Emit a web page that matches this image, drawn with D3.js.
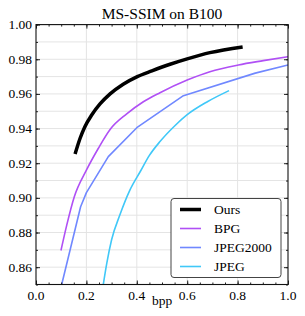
<!DOCTYPE html>
<html>
<head>
<meta charset="utf-8">
<script src="https://cdn.jsdelivr.net/npm/d3@7"></script>
<style>
  body { margin: 0; background: #fff; }
  svg { display: block; }
  text { font-family: "Liberation Serif", "Times New Roman", serif; }
</style>
</head>
<body>
<svg class="chart" width="305" height="316"></svg>
<script>
// values
const ours = [[0.155, 0.9253], [0.175, 0.9344], [0.194, 0.9411], [0.221, 0.9478], [0.254, 0.9542],
    [0.294, 0.960], [0.346, 0.9656], [0.402, 0.970], [0.46, 0.9733], [0.532, 0.9771],
    [0.60, 0.9802], [0.69, 0.9838], [0.82, 0.9871]];
const bpg = [[0.099, 0.8696], [0.122, 0.8843], [0.152, 0.9007], [0.20, 0.9160], [0.247, 0.9285],
    [0.294, 0.9395], [0.36, 0.9485], [0.426, 0.9555], [0.492, 0.9607], [0.60, 0.968],
    [0.69, 0.9728], [0.803, 0.9767], [0.902, 0.9792], [1.0, 0.9815]];
const jpeg2000 = [[0.102, 0.850], [0.177, 0.8949], [0.20, 0.9030], [0.287, 0.9238],
    [0.40, 0.9405], [0.585, 0.9590], [0.87, 0.9720], [1.0, 0.9767]];
const jpeg = [[0.267, 0.850], [0.281, 0.8623], [0.30, 0.8758], [0.333, 0.8902], [0.373, 0.9046],
    [0.415, 0.9155], [0.45, 0.9245], [0.492, 0.9325], [0.55, 0.9415], [0.60, 0.948],
    [0.68, 0.9555], [0.766, 0.9619]];

const series = [
    { name: 'Ours', values: ours, color: '#000000', width: 3.5, curve: d3.curveMonotoneX },
    { name: 'BPG', values: bpg, color: '#b050f5', width: 1.6, curve: d3.curveMonotoneX },
    { name: 'JPEG2000', values: jpeg2000, color: '#7088ff', width: 1.6, curve: d3.curveLinear },
    { name: 'JPEG', values: jpeg, color: '#40c8f8', width: 1.6, curve: d3.curveMonotoneX }
];

const xTicks = [0, 0.2, 0.4, 0.6, 0.8, 1.0];
const yTicks = [0.86, 0.88, 0.90, 0.92, 0.94, 0.96, 0.98, 1.00];

const svg = d3.select('.chart');
const margin = { top: 24.6, right: 17, bottom: 31.5, left: 36 };
const width = +svg.attr('width');
const height = +svg.attr('height');
const innerWidth = width - margin.left - margin.right;
const innerHeight = height - margin.top - margin.bottom;

const xScale = d3.scaleLinear().domain([0, 1]).range([0, innerWidth]);
const yScale = d3.scaleLinear().domain([0.85, 1.0]).range([innerHeight, 0]);

const g = svg.append('g')
    .attr('transform', `translate(${margin.left}, ${margin.top})`);

// grid
const yGrid = d3.range(0.86, 1.0001, 0.01);
g.append('g')
    .selectAll('line')
    .data(yGrid)
    .join('line')
    .attr('x1', 0).attr('x2', innerWidth)
    .attr('y1', d => yScale(d)).attr('y2', d => yScale(d))
    .attr('stroke', '#e4e4e4')
    .attr('stroke-width', 1);
g.append('g')
    .selectAll('line')
    .data(xTicks.slice(1, -1))
    .join('line')
    .attr('y1', 0).attr('y2', innerHeight)
    .attr('x1', d => xScale(d)).attr('x2', d => xScale(d))
    .attr('stroke', '#e4e4e4')
    .attr('stroke-width', 1);

g.append('clipPath').attr('id', 'clip')
    .append('rect').attr('width', innerWidth).attr('height', innerHeight);

g.append('g')
    .attr('clip-path', 'url(#clip)')
    .selectAll('path')
    .data(series.slice().reverse())
    .join('path')
    .attr('d', d => d3.line()
        .x(p => xScale(p[0]))
        .y(p => yScale(p[1]))
        .curve(d.curve)(d.values))
    .attr('fill', 'none')
    .attr('stroke', d => d.color)
    .attr('stroke-width', d => d.width)
    .attr('stroke-linejoin', 'round');

// axes with inward ticks on all sides
const xMinor = d3.range(0, 1.0001, 0.05);
const yMinor = d3.range(0.85, 1.0001, 0.01);

function ticksIn(axis, size) {
    return axis.tickSize(size).tickSizeOuter(0).tickFormat('');
}

g.append('g').attr('transform', `translate(0, ${innerHeight})`)
    .call(ticksIn(d3.axisTop(xScale).tickValues(xMinor), 2));
g.append('g').attr('transform', `translate(0, ${innerHeight})`)
    .call(ticksIn(d3.axisTop(xScale).tickValues(xTicks), 4));
g.append('g')
    .call(ticksIn(d3.axisBottom(xScale).tickValues(xMinor), 2));
g.append('g')
    .call(ticksIn(d3.axisBottom(xScale).tickValues(xTicks), 4));
g.append('g')
    .call(ticksIn(d3.axisRight(yScale).tickValues(yMinor), 2));
g.append('g')
    .call(ticksIn(d3.axisRight(yScale).tickValues(yTicks), 4));
g.append('g').attr('transform', `translate(${innerWidth}, 0)`)
    .call(ticksIn(d3.axisLeft(yScale).tickValues(yMinor), 2));
g.append('g').attr('transform', `translate(${innerWidth}, 0)`)
    .call(ticksIn(d3.axisLeft(yScale).tickValues(yTicks), 4));
g.selectAll('.domain').remove();
g.selectAll('.tick text').remove();
g.selectAll('.tick line').attr('stroke', '#222');

// tick labels
g.append('g')
    .selectAll('text')
    .data(xTicks)
    .join('text')
    .attr('x', d => xScale(d))
    .attr('y', innerHeight + 16)
    .attr('text-anchor', 'middle')
    .style('font-size', '13.5px')
    .text(d3.format('.1f'));
g.append('g')
    .selectAll('text')
    .data(yTicks)
    .join('text')
    .attr('x', -4)
    .attr('y', d => yScale(d))
    .attr('dy', '0.34em')
    .attr('text-anchor', 'end')
    .style('font-size', '13.5px')
    .text(d3.format('.2f'));

// frame
g.append('rect')
    .attr('width', innerWidth).attr('height', innerHeight)
    .attr('fill', 'none')
    .attr('stroke', '#111')
    .attr('stroke-width', 1.1);

svg.append('text')
    .attr('x', margin.left + innerWidth / 2)
    .attr('y', 19)
    .attr('text-anchor', 'middle')
    .style('font-size', '15.5px')
    .text('MS-SSIM on B100');

svg.append('text')
    .attr('x', margin.left + innerWidth / 2)
    .attr('y', 305)
    .attr('text-anchor', 'middle')
    .style('font-size', '13.5px')
    .text('bpp');

// legend
const legend = svg.append('g').attr('transform', 'translate(171, 198.5)');
legend.append('rect')
    .attr('width', 110).attr('height', 79)
    .attr('rx', 3)
    .attr('fill', '#fff')
    .attr('stroke', '#444')
    .attr('stroke-width', 1);
const item = legend.selectAll('.legend')
    .data(series)
    .join('g')
    .attr('class', 'legend')
    .attr('transform', (d, i) => `translate(0, ${11 + i * 19})`);
item.append('line')
    .attr('x1', 9).attr('x2', 30)
    .attr('stroke', d => d.color)
    .attr('stroke-width', d => d.width);
item.append('text')
    .attr('x', 43)
    .attr('dy', '0.34em')
    .style('font-size', '13.5px')
    .text(d => d.name);
</script>
</body>
</html>
